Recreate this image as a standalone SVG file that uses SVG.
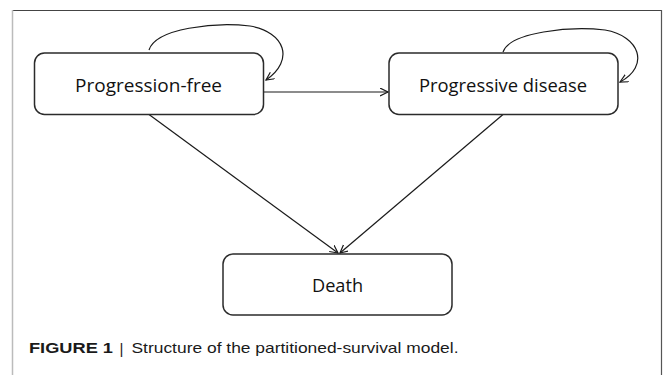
<svg xmlns="http://www.w3.org/2000/svg" width="663" height="375" viewBox="0 0 663 375">
<style>
.box{fill:#fff;stroke:#2b2b2b;stroke-width:1.5}
.lbl{font-family:"Open Sans","Noto Sans","Liberation Sans",sans-serif;font-size:18.5px;fill:#111;text-anchor:start}
.edge{fill:none;stroke:#1a1a1a;stroke-width:1.2}
.cap{font-family:"Liberation Sans",Arial,sans-serif;font-size:15px;fill:#1a1a1a}
</style>
<defs>
<marker id="arr" markerWidth="10" markerHeight="10" refX="8" refY="4" orient="auto" markerUnits="userSpaceOnUse">
<path d="M0,0 L8,4 L0,8" fill="none" stroke="#1a1a1a" stroke-width="1.2"/>
</marker>
</defs>
<rect width="663" height="375" fill="#fff"/>
<g id="frame">
<line x1="12" y1="10.5" x2="662" y2="10.5" stroke="#444" stroke-width="1"/>
<line x1="12.5" y1="10" x2="12.5" y2="375" stroke="#bbb" stroke-width="1.5"/>
<line x1="661.5" y1="10" x2="661.5" y2="375" stroke="#555" stroke-width="1.2"/>
</g>
<g id="connectors">
<path class="edge" d="M149,50 C156,28 215,22 250,26 C285,32 295,60 266,80" marker-end="url(#arr)"/>
<path class="edge" d="M503,52 C510,32 570,26 605,30 C640,36 650,66 620,82" marker-end="url(#arr)"/>
<line class="edge" x1="264" y1="92" x2="388" y2="92" marker-end="url(#arr)"/>
<line class="edge" x1="149" y1="114.5" x2="338" y2="253" marker-end="url(#arr)"/>
<line class="edge" x1="503" y1="114.5" x2="340" y2="253" marker-end="url(#arr)"/>
</g>
<g id="node-pf">
<rect class="box" x="34.5" y="53" width="229" height="61.5" rx="10"/>
<text class="lbl" x="75" y="91.5" textLength="147" lengthAdjust="spacingAndGlyphs">Progression-free</text>
</g>
<g id="node-pd">
<rect class="box" x="389" y="53" width="229" height="61.5" rx="10"/>
<text class="lbl" x="419" y="91.5" textLength="168" lengthAdjust="spacingAndGlyphs">Progressive disease</text>
</g>
<g id="node-death">
<rect class="box" x="223" y="254" width="229" height="61" rx="10"/>
<text class="lbl" x="312" y="291.5" textLength="51" lengthAdjust="spacingAndGlyphs">Death</text>
</g>
<g id="caption">
<text class="cap" x="29" y="352.5" font-weight="bold" textLength="84" lengthAdjust="spacingAndGlyphs">FIGURE 1</text>
<text class="cap" x="119.5" y="354" font-size="17">|</text>
<text class="cap" x="131.5" y="352.5" textLength="327" lengthAdjust="spacingAndGlyphs">Structure of the partitioned-survival model.</text>
</g>
</svg>
